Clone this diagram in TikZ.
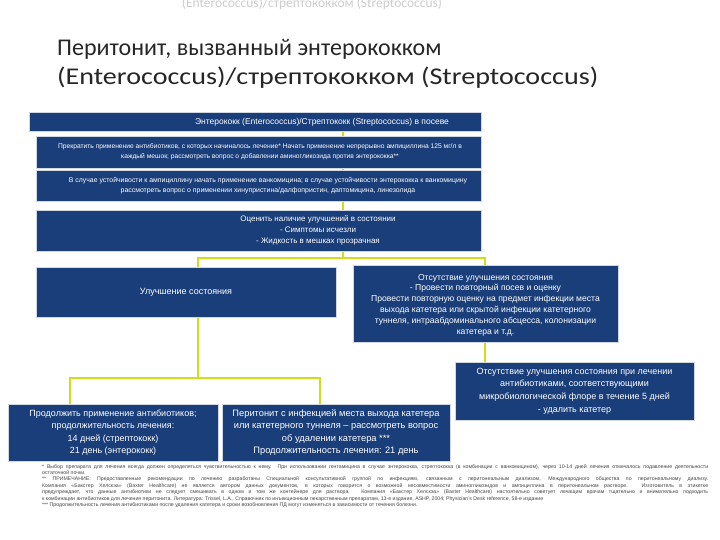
\documentclass[tikz,border=0pt]{standalone}
\usepackage{fontspec}
\setmainfont{Liberation Sans}
\newfontfamily\titlefont{Carlito}
\usetikzlibrary{backgrounds}
\definecolor{boxblue}{RGB}{25,62,122}
\definecolor{linkgreen}{RGB}{206,222,24}
\definecolor{titlegray}{RGB}{38,38,38}
\definecolor{ghost}{RGB}{205,205,205}
\definecolor{notegray}{RGB}{70,70,70}
\begin{document}
\begin{tikzpicture}[x=1pt,y=-1pt,
 boxshape/.style={fill=boxblue, draw=white!80!boxblue, line width=0.4pt, inner sep=0pt, anchor=center},
 boxtext/.style={text=white, align=center, inner sep=0pt, anchor=center},
 link/.style={draw=linkgreen, line width=2.6pt}]
\useasboundingbox (0,0) rectangle (720,540);

% title
\node[anchor=base, inner sep=0pt, font=\titlefont\fontsize{13.5}{15}\selectfont, text=ghost] (gh) at (312,8) {(Enterococcus)/стрептококком (Streptococcus)};
\node[anchor=base west, inner sep=0pt, font=\titlefont\fontsize{24}{28}\selectfont, text=titlegray] (tl1) at (57,56) {Перитонит, вызванный энтерококком};
\node[anchor=base west, inner sep=0pt, font=\titlefont\fontsize{24}{28}\selectfont, text=titlegray] (tl2) at (57,85) {\scalebox{1.17}[1]{(Enterococcus)/стрептококком (Streptococcus)}};

% boxes
\node[boxshape, minimum width=452pt, minimum height=19pt] (b1) at (255,121.5) {};
\node[boxshape, minimum width=445pt, minimum height=32pt] (b2) at (258.5,152) {};
\node[boxshape, minimum width=445pt, minimum height=31pt] (b3) at (258.5,185.5) {};
\node[boxshape, minimum width=445pt, minimum height=41pt] (b4) at (258.5,230.5) {};
\node[boxshape, minimum width=300pt, minimum height=50pt] (b5) at (186,292) {};
\node[boxshape, minimum width=265pt, minimum height=77pt] (b6) at (485.5,303.5) {};
\node[boxshape, minimum width=210pt, minimum height=57pt] (b7) at (113,432.5) {};
\node[boxshape, minimum width=228pt, minimum height=57pt] (b8) at (336,432.5) {};
\node[boxshape, minimum width=239pt, minimum height=58pt] (b9) at (574.5,391) {};

% box texts
\node[boxtext, font=\fontsize{8.5}{10}\selectfont] (t1) at (322,122) {Энтерококк (Enterococcus)/Стрептококк (Streptococcus) в посеве};
\node[boxtext, font=\fontsize{6.7}{10}\selectfont] (t2) at (260,152) {Прекратить применение антибиотиков, с которых начиналось лечение* Начать применение непрерывно ампициллина 125 мг/л в\\каждый мешок; рассмотреть вопрос о добавлении аминогликозида против энтерококка**};
\node[boxtext, font=\fontsize{6.9}{10}\selectfont] (t3) at (268,185.5) {В случае устойчивости к ампициллину начать применение ванкомицина; в случае устойчивости энтерококка к ванкомицину\\рассмотреть вопрос о применении хинупристина/далфопристин, даптомицина, линезолида};
\node[boxtext, font=\fontsize{8}{11}\selectfont] (t4) at (318,230.5) {Оценить наличие улучшений в состоянии\\- Симптомы исчезли\\- Жидкость в мешках прозрачная};
\node[boxtext, font=\fontsize{9}{11}\selectfont] (t5) at (186,292) {Улучшение состояния};
\node[boxtext, font=\fontsize{8.6}{10.8}\selectfont] (t6) at (485.5,305) {Отсутствие улучшения состояния\\- Провести повторный посев и оценку\\Провести повторную оценку на предмет инфекции места\\выхода катетера или скрытой инфекции катетерного\\туннеля, интраабдоминального абсцесса, колонизации\\катетера и т.д.};
\node[boxtext, font=\fontsize{9}{12.4}\selectfont] (t7) at (113,432.5) {Продолжить применение антибиотиков;\\продолжительность лечения:\\14 дней (стрептококк)\\21 день (энтерококк)};
\node[boxtext, font=\fontsize{9.3}{12.6}\selectfont] (t8) at (336,432.5) {Перитонит с инфекцией места выхода катетера\\или катетерного туннеля – рассмотреть вопрос\\об удалении катетера ***\\Продолжительность лечения: 21 день};
\node[boxtext, font=\fontsize{9}{12.6}\selectfont] (t9) at (574.5,391) {Отсутствие улучшения состояния при лечении\\антибиотиками, соответствующими\\микробиологической флоре в течение 5 дней\\- удалить катетер};

% footnotes
\node[anchor=north west, text width=666pt, align=justify, inner sep=0pt, text=notegray, font=\fontsize{5.2}{6.4}\selectfont] (fn) at (42,464) {* Выбор препарата для лечения всегда должен определяться чувствительностью к нему. При использовании гентамицина в случае энтерококка, стрептококка (в комбинации с ванкомицином), через 10-14 дней лечения отмечалось подавление деятельности\linebreak
остаточной почки.\par
** ПРИМЕЧАНИЕ: Предоставленные рекомендации по лечению разработаны Специальной консультативной группой по инфекциям, связанным с перитонеальным диализом, Международного общества по перитонеальному диализу.\linebreak
Компания «Бакстер Хелскэа» (Baxter Healthcare) не является автором данных документов, в которых говорится о возможной несовместимости аминогликозидов и ампициллина в перитонеальном растворе. Изготовитель в этикетке\linebreak
предупреждает, что данные антибиотики не следует смешивать в одном и том же контейнере для раствора. Компания «Бакстер Хелскэа» (Baxter Healthcare) настоятельно советует лечащим врачам тщательно и внимательно подходить\linebreak
к комбинации антибиотиков для лечения перитонита. Литература: Trissel, L.A., Справочник по инъекционным лекарственным препаратам, 13-е издание, ASHP, 2004; Physician's Desk reference, 58-е издание\par
*** Продолжительность лечения антибиотиками после удаления катетера и сроки возобновления ПД могут изменяться в зависимости от течения болезни.};

% connectors
\coordinate (c1) at (343,0);
\coordinate (c5) at (198,0);
\coordinate (c6) at (485,0);
\coordinate (c7) at (70,0);
\coordinate (c8) at (320,0);
\coordinate (j1) at (343,258);
\coordinate (j2) at (198,378);
\begin{pgfonlayer}{background}
\fill[white] (0,0) rectangle (720,540);
\draw[link] (b1.south -| c1) -- (b2.north -| c1);
\draw[link] (b2.south -| c1) -- (b3.north -| c1);
\draw[link] (b3.south -| c1) -- (b4.north -| c1);
\draw[link] (b4.south -| c1) -- (j1);
\draw[link] (b5.north -| c5) |- (j1) -| (b6.north -| c6);
\draw[link] (b5.south -| c5) -- (j2);
\draw[link] (b7.north -| c7) |- (j2) -| (b8.north -| c8);
\draw[link] (b6.south -| c6) -- (b9.north -| c6);
\end{pgfonlayer}
\end{tikzpicture}
\end{document}
